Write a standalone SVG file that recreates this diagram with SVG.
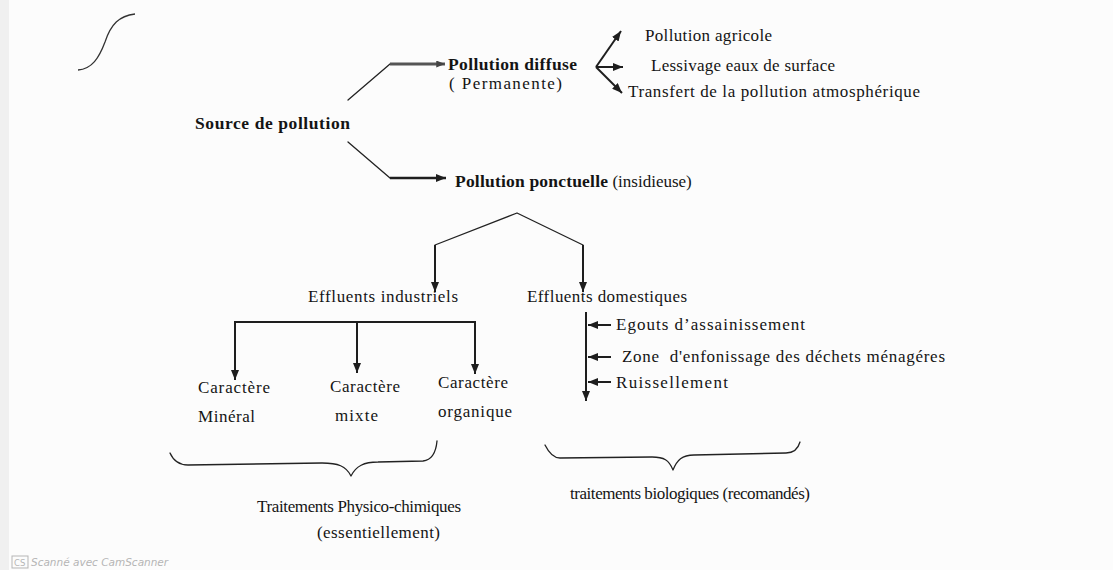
<svg xmlns="http://www.w3.org/2000/svg" width="1113" height="570" viewBox="0 0 1113 570">
  <defs>
    <marker id="ah" viewBox="0 0 10 8" refX="10" refY="4" markerWidth="10" markerHeight="8" markerUnits="userSpaceOnUse" orient="auto">
      <path d="M0,0 L10,4 L0,8 Z" fill="#1e1e1e"/>
    </marker>
    <marker id="ahg" viewBox="0 0 10 8" refX="10" refY="4" markerWidth="9" markerHeight="7" markerUnits="userSpaceOnUse" orient="auto">
      <path d="M0,0 L10,4 L0,8 Z" fill="#444"/>
    </marker>
  </defs>
  <style>
    text { font-family: "Liberation Serif", "Times New Roman", serif; font-size: 17px; fill: #141414; }
    .b { font-weight: bold; font-size: 17.5px; }
    .ln { fill: none; stroke: #222; stroke-width: 1.3; stroke-linecap: round; stroke-linejoin: round; }
    .th { fill: none; stroke: #1e1e1e; stroke-width: 2; }
    .ar { fill: none; stroke: #1e1e1e; stroke-width: 2; marker-end: url(#ah); }
    .wm { font-family: "DejaVu Sans", sans-serif; font-size: 10.5px; fill: #b5b5b5; font-style: italic; }
  </style>
  <rect x="0" y="0" width="1113" height="570" fill="#fcfcfc"/>
  <rect x="0" y="0" width="9" height="570" fill="#f0f0f0"/>

  <!-- stray pen stroke -->
  <path d="M78,70 C92,69 99,58 105,42 C111,24 119,16 135,14" fill="none" stroke="#333" stroke-width="1.3"/>

  <g id="connectors">
    <path class="ln" d="M348,100 L390,64"/>
    <path d="M390,64 L445,64" fill="none" stroke="#555" stroke-width="3" marker-end="url(#ahg)"/>
    <path class="ln" d="M348,142 L390,178"/>
    <path d="M390,178 L446,178" fill="none" stroke="#1e1e1e" stroke-width="2.4" marker-end="url(#ah)"/>
    <path class="ar" d="M596,67 L621,31" stroke-width="2.3"/>
    <path class="ar" d="M596,67 L623,67" stroke-width="2.3"/>
    <path class="ar" d="M596,67 L622,93" stroke-width="2.3"/>
    <path class="ln" d="M435,245 L517,213 L583,245"/>
    <path class="ar" d="M435,245 L435,292"/>
    <path class="ar" d="M583,245 L583,292"/>
    <path class="th" d="M234,322 L476,322"/>
    <path class="ar" d="M235,322 L235,380"/>
    <path class="ar" d="M357,322 L357,373" stroke-width="3"/>
    <path class="ar" d="M475,322 L475,374" stroke-width="3"/>
    <path class="ar" d="M586,312 L586,401"/>
    <path class="ar" d="M611,325 L588,325"/>
    <path class="ar" d="M611,357 L588,357"/>
    <path class="ar" d="M611,382 L588,382"/>
    <path class="ln" stroke-width="2.2" d="M170,453 C174,462 180,465 188,465 L322,463 C338,463 346,466 351,476 C356,466 364,462 378,462 L423,461 C432,460 436,452 437,441"/>
    <path class="ln" stroke-width="2.2" d="M545,445 C549,453 553,458 560,458 L652,457 C664,457 669,460 673,470 C677,460 682,455 694,455 L786,453 C794,453 798,449 800,442"/>
  </g>

  <g id="source"><text class="b" x="195" y="129" textLength="155">Source de pollution</text></g>
  <g id="diffuse">
    <text class="b" x="448" y="70" textLength="129">Pollution diffuse</text>
    <text x="449" y="89" textLength="113">( Permanente)</text>
  </g>
  <g id="ponctuelle">
    <text x="455" y="187"><tspan class="b" textLength="153">Pollution ponctuelle</tspan> <tspan>(insidieuse)</tspan></text>
  </g>
  <g id="agricole"><text x="645" y="41" textLength="127">Pollution agricole</text></g>
  <g id="lessivage"><text x="651" y="71" textLength="184">Lessivage eaux de surface</text></g>
  <g id="transfert"><text x="628" y="97" textLength="292">Transfert de la pollution atmosphérique</text></g>
  <g id="industriels"><text x="308" y="302" textLength="150">Effluents industriels</text></g>
  <g id="domestiques"><text x="527" y="302" textLength="160">Effluents domestiques</text></g>
  <g id="mineral">
    <text x="198" y="393" textLength="72">Caractère</text>
    <text x="198" y="422" textLength="57">Minéral</text>
  </g>
  <g id="mixte">
    <text x="330" y="392" textLength="70">Caractère</text>
    <text x="335" y="421" textLength="43">mixte</text>
  </g>
  <g id="organique">
    <text x="438" y="388" textLength="70">Caractère</text>
    <text x="438" y="417" textLength="74">organique</text>
  </g>
  <g id="egouts"><text x="616" y="330" textLength="189">Egouts d’assainissement</text></g>
  <g id="zone"><text x="622" y="362" textLength="323" xml:space="preserve">Zone  d'enfonissage des déchets ménagéres</text></g>
  <g id="ruissellement"><text x="616" y="388" textLength="112">Ruissellement</text></g>
  <g id="physico">
    <text x="257" y="512" textLength="204">Traitements Physico-chimiques</text>
    <text x="317" y="538" textLength="123">(essentiellement)</text>
  </g>
  <g id="biologiques"><text x="570" y="499" textLength="240">traitements biologiques (recomandés)</text></g>

  <g id="watermark">
    <rect x="12" y="556" width="16" height="12" fill="none" stroke="#b5b5b5" stroke-width="1"/>
    <text class="wm" x="14" y="566" style="font-style:normal;font-size:8.5px">CS</text>
    <text class="wm" x="31" y="566">Scanné avec CamScanner</text>
  </g>
</svg>
